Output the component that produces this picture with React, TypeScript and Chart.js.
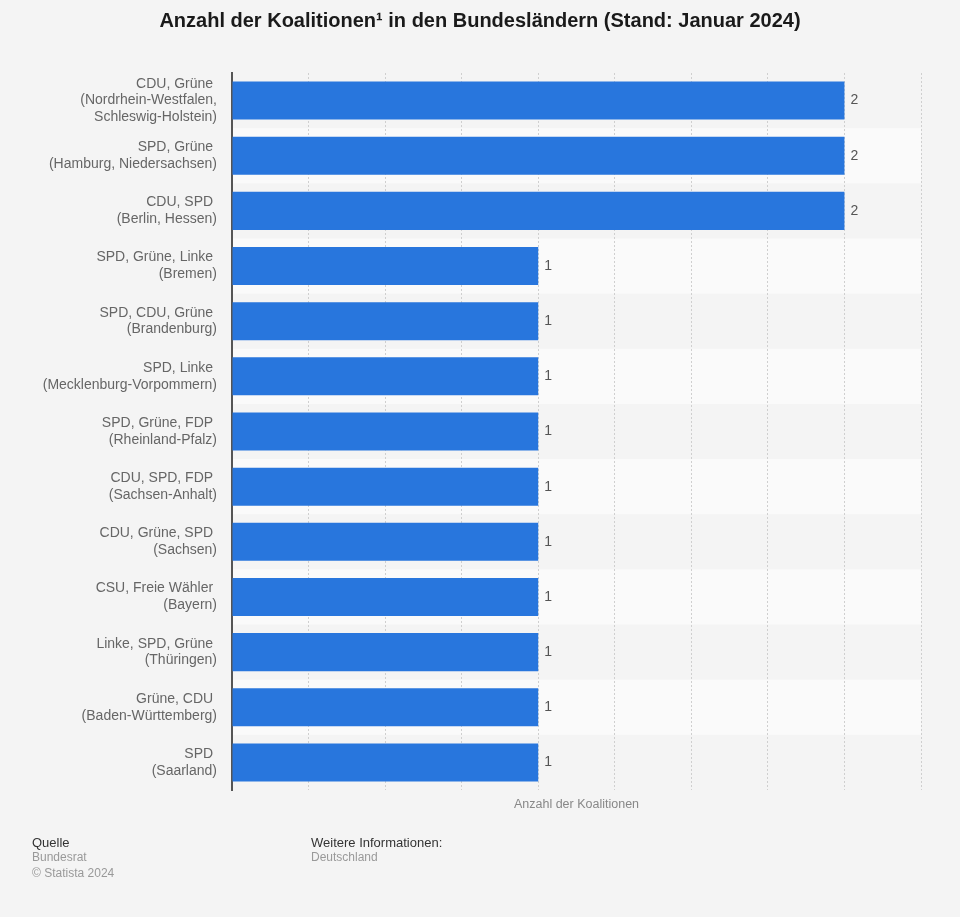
import React, { useEffect, useRef } from "react";
import { Chart, registerables } from "chart.js";

Chart.register(...registerables);

const categories: string[][] = [
  ["CDU, Grüne ", "(Nordrhein-Westfalen,", "Schleswig-Holstein)"],
  ["SPD, Grüne ", "(Hamburg, Niedersachsen)"],
  ["CDU, SPD ", "(Berlin, Hessen)"],
  ["SPD, Grüne, Linke ", "(Bremen)"],
  ["SPD, CDU, Grüne ", "(Brandenburg)"],
  ["SPD, Linke ", "(Mecklenburg-Vorpommern)"],
  ["SPD, Grüne, FDP ", "(Rheinland-Pfalz)"],
  ["CDU, SPD, FDP ", "(Sachsen-Anhalt)"],
  ["CDU, Grüne, SPD ", "(Sachsen)"],
  ["CSU, Freie Wähler ", "(Bayern)"],
  ["Linke, SPD, Grüne ", "(Thüringen)"],
  ["Grüne, CDU ", "(Baden-Württemberg)"],
  ["SPD ", "(Saarland)"],
];

const values: number[] = [2, 2, 2, 1, 1, 1, 1, 1, 1, 1, 1, 1, 1];

const titleText = "Anzahl der Koalitionen¹ in den Bundesländern (Stand: Januar 2024)";
const xAxisTitle = "Anzahl der Koalitionen";
const sourceLines = ["Bundesrat", "© Statista 2024"];
const infoLines = ["Deutschland"];

const FONT = '"Liberation Sans", Arial, Helvetica, sans-serif';

const decorPlugin = {
  id: "decor",
  beforeDraw(chart: any) {
    const { ctx, chartArea, scales } = chart;
    ctx.save();
    ctx.fillStyle = "#f4f4f4";
    ctx.fillRect(0, 0, chart.width, chart.height);
    const y = scales.y;
    const n = categories.length;
    const step = (chartArea.bottom - chartArea.top) / n;
    ctx.fillStyle = "#fafafa";
    for (let i = 0; i < n; i++) {
      if (i % 2 === 1) {
        const c = y.getPixelForValue(i);
        ctx.fillRect(chartArea.left, c - step / 2, chartArea.right - chartArea.left, step);
      }
    }
    ctx.restore();
  },
  afterDatasetsDraw(chart: any) {
    const { ctx } = chart;
    const meta = chart.getDatasetMeta(0);
    ctx.save();
    ctx.font = `14px ${FONT}`;
    ctx.fillStyle = "#555";
    ctx.textAlign = "left";
    ctx.textBaseline = "middle";
    meta.data.forEach((bar: any, i: number) => {
      ctx.fillText(String(values[i]), bar.x + 6, bar.y);
    });
    ctx.restore();
  },
  afterDraw(chart: any) {
    const { ctx, chartArea } = chart;
    ctx.save();
    ctx.textBaseline = "middle";
    ctx.textAlign = "center";
    ctx.fillStyle = "#1a1a1a";
    ctx.font = `bold 20px ${FONT}`;
    ctx.fillText(titleText, 480, 21);

    ctx.font = `12.5px ${FONT}`;
    ctx.fillStyle = "#888";
    ctx.fillText(xAxisTitle, (chartArea.left + chartArea.right) / 2, 805);

    ctx.textAlign = "left";
    ctx.font = `13px ${FONT}`;
    ctx.fillStyle = "#333";
    ctx.fillText("Quelle", 32, 843);
    ctx.fillText("Weitere Informationen:", 311, 843);
    ctx.font = `12px ${FONT}`;
    ctx.fillStyle = "#999";
    sourceLines.forEach((t, i) => ctx.fillText(t, 32, 858 + i * 16));
    infoLines.forEach((t, i) => ctx.fillText(t, 311, 858 + i * 16));
    ctx.restore();
  },
};

export default function App() {
  const ref = useRef<HTMLCanvasElement | null>(null);
  useEffect(() => {
    document.body.style.margin = "0";
    document.body.style.background = "#f4f4f4";
    if (!ref.current) return;
    const chart = new Chart(ref.current, {
      type: "bar",
      data: {
        labels: categories,
        datasets: [
          {
            data: values,
            backgroundColor: "#2876dd",
            borderWidth: 0,
            categoryPercentage: 1,
            barPercentage: 0.69,
          },
        ],
      },
      options: {
        indexAxis: "y",
        responsive: false,
        animation: false,
        layout: { padding: { top: 73, right: 39, left: 0, bottom: 0 } },
        plugins: {
          legend: { display: false },
          title: { display: false },
          tooltip: { enabled: false },
        },
        scales: {
          x: {
            type: "linear",
            min: 0,
            max: 2.25,
            ticks: { display: false, stepSize: 0.25 },
            grid: { color: "#cfcfcf", lineWidth: 1, drawTicks: false },
            border: { display: false, dash: [2, 2] },
            afterFit(scale: any) {
              scale.height = 127;
            },
          },
          y: {
            ticks: {
              color: "#666",
              font: { family: FONT, size: 14, lineHeight: 1.2 },
              padding: 15,
            },
            grid: { display: false, drawTicks: false },
            border: { display: true, color: "#555", width: 2 },
            afterFit(scale: any) {
              scale.width = 232;
            },
          },
        },
      },
      plugins: [decorPlugin],
    });
    return () => chart.destroy();
  }, []);
  return (
    <div style={{ width: 960, height: 917, background: "#f4f4f4" }}>
      <canvas ref={ref} width={960} height={917} style={{ display: "block" }} />
    </div>
  );
}
